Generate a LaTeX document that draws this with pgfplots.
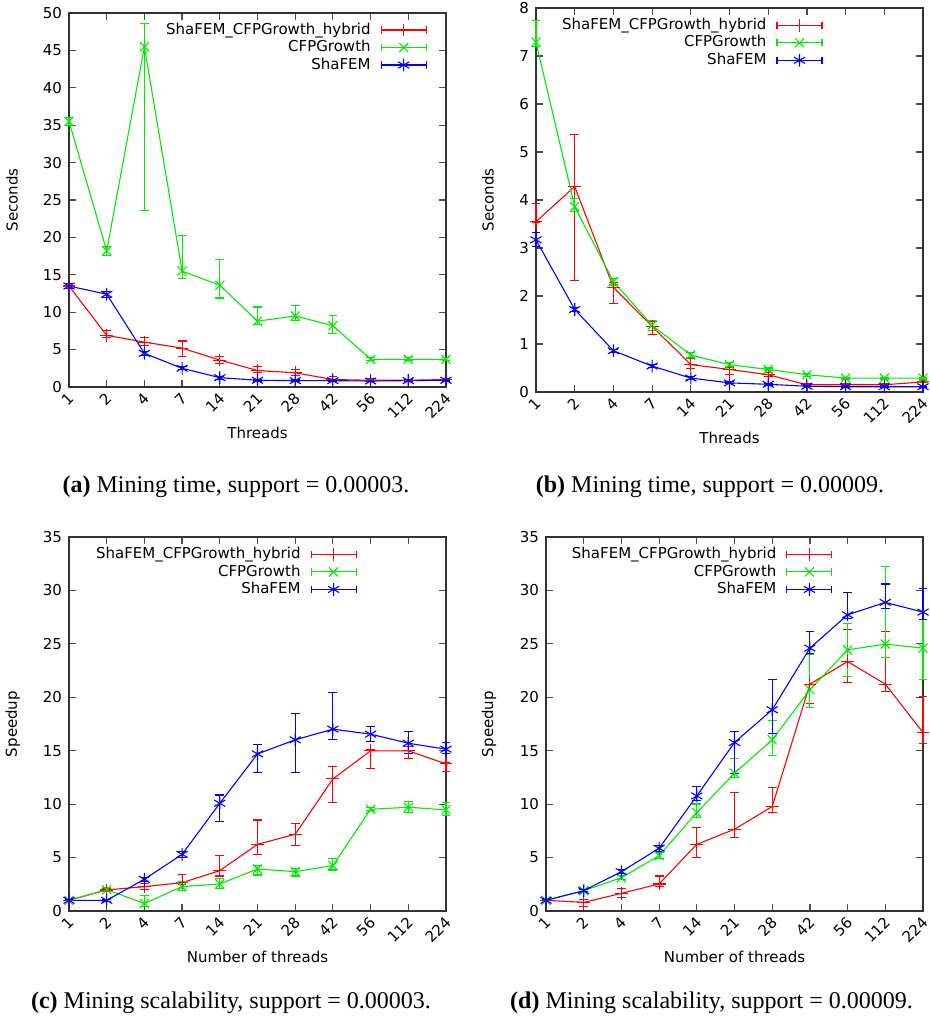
\documentclass[border=0pt]{standalone}
\usepackage{pgfplots}
\pgfplotsset{compat=1.18}
\usepackage{fontspec}
\setmainfont{DejaVu Sans}
\newfontfamily\capfont{Liberation Serif}
\definecolor{gpred}{RGB}{255,0,0}
\definecolor{gpgreen}{RGB}{0,235,0}
\definecolor{gpblue}{RGB}{0,0,255}

\pgfplotsset{
  gp/.style={
    scale only axis, clip=false,
    xmin=0, xmax=10, xtick={0,...,10},
    xticklabels={1,2,4,7,14,21,28,42,56,112,224},
    xticklabel style={xshift=-1pt, rotate=45, anchor=north east, inner sep=1.5pt},
    ymin=0,
    tick align=inside, major tick length=3.5pt,
    axis line style={black!80, line width=0.65pt},
    tick style={black!70, line width=0.6pt},
    font=\fontsize{7.5}{9}\selectfont,
    /pgf/number format/assume math mode=true,
    legend plot pos=right, legend cell align=right,
    legend style={draw=none, fill=none, anchor=north east, inner sep=0pt,
      row sep=0.35pt, column sep=4.5pt, font=\fontsize{7.5}{9}\selectfont,
      nodes={inner sep=0.5pt, text height=5.8pt, text depth=1.6pt}},
    legend image code/.code={
      \draw[#1,mark=none] (0pt,0pt) -- (22.5pt,0pt)
        (0pt,-1.8pt) -- (0pt,1.8pt) (22.5pt,-1.8pt) -- (22.5pt,1.8pt);
      \draw[#1,only marks] plot coordinates {(11.25pt,0pt)};
    },
    every axis plot/.append style={line width=0.55pt, mark size=3.2pt},
    error bars/y dir=both, error bars/y explicit,
  },
  errc/.style={
    error bars/error bar style={draw=#1, line width=0.55pt},
    error bars/error mark options={draw=#1, rotate=90, mark size=2.2pt, line width=0.55pt}},
  hyb/.style={color=gpred, mark=+, errc=gpred},
  cfp/.style={color=gpgreen, mark=x, errc=gpgreen},
  sha/.style={color=gpblue, mark=asterisk, errc=gpblue},
}

\begin{document}
\begin{tikzpicture}
\useasboundingbox (0,0) rectangle (465pt,512.5pt);

% (a) mining time, support 0.00003
\begin{axis}[gp, at={(34.5pt,319pt)}, anchor=south west,
  width=188.5pt, height=187pt, ymax=50, ytick={0,5,...,50},
  xlabel={Threads}, ylabel={Seconds},
  xlabel style={at={(axis description cs:0.5,-0.123)}, anchor=center},
  ylabel style={at={(axis description cs:-0.151,0.5)}, anchor=center},
  legend style={at={(axis description cs:0.95,0.978)}}]
\addplot[hyb] coordinates {
  (0,13.5) += (0,0.3) -= (0,0.3)
  (1,6.9) += (0,0.7) -= (0,0.3)
  (2,6.0) += (0,0.6) -= (0,0.4)
  (3,5.2) += (0,0.95) -= (0,1.1)
  (4,3.6) += (0,0.5) -= (0,0.5)
  (5,2.2) += (0,0.5) -= (0,0.3)
  (6,1.9) += (0,0.4) -= (0,0.35)
  (7,1.0) += (0,0.4) -= (0,0.2)
  (8,0.9) += (0,0.2) -= (0,0.1)
  (9,0.9) += (0,0.1) -= (0,0.1)
  (10,1.0) += (0,0.1) -= (0,0.1)
};
\addplot[cfp] coordinates {
  (0,35.5) += (0,0.5) -= (0,0.5)
  (1,18.2) += (0,0.6) -= (0,0.6)
  (2,45.5) += (0,3.1) -= (0,21.9)
  (3,15.5) += (0,4.7) -= (0,1.0)
  (4,13.6) += (0,3.45) -= (0,1.7)
  (5,8.8) += (0,1.9) -= (0,0.5)
  (6,9.5) += (0,1.35) -= (0,0.65)
  (7,8.2) += (0,1.35) -= (0,1.1)
  (8,3.7) += (0,0.2) -= (0,0.2)
  (9,3.7) += (0,0.2) -= (0,0.2)
  (10,3.7) += (0,0.2) -= (0,0.2)
};
\addplot[sha] coordinates {
  (0,13.5) += (0,0.3) -= (0,0.3)
  (1,12.4) += (0,0.4) -= (0,0.4)
  (2,4.5) += (0,0.3) -= (0,0.3)
  (3,2.5) += (0,0.2) -= (0,0.2)
  (4,1.25) += (0,0.2) -= (0,0.2)
  (5,0.9) += (0,0.1) -= (0,0.1)
  (6,0.85) += (0,0.1) -= (0,0.1)
  (7,0.85) += (0,0.1) -= (0,0.1)
  (8,0.8) += (0,0.1) -= (0,0.1)
  (9,0.85) += (0,0.1) -= (0,0.1)
  (10,0.9) += (0,0.1) -= (0,0.1)
};
\legend{ShaFEM\_CFPGrowth\_hybrid, CFPGrowth, ShaFEM}
\end{axis}

% (b) mining time, support 0.00009
\begin{axis}[gp, at={(268pt,316.5pt)}, anchor=south west,
  width=193.5pt, height=192pt, ymax=8, ytick={0,1,...,8},
  xlabel={Threads}, ylabel={Seconds},
  xlabel style={at={(axis description cs:0.5,-0.12)}, anchor=center},
  ylabel style={at={(axis description cs:-0.124,0.5)}, anchor=center},
  legend style={at={(axis description cs:0.7416,0.978)}}]
\addplot[hyb] coordinates {
  (0,3.55) += (0,0.37) -= (0,0.02)
  (1,4.28) += (0,1.09) -= (0,1.96)
  (2,2.18) += (0,0.1) -= (0,0.34)
  (3,1.37) += (0,0.1) -= (0,0.17)
  (4,0.57) += (0,0.13) -= (0,0.08)
  (5,0.47) += (0,0.05) -= (0,0.1)
  (6,0.36) += (0,0.04) -= (0,0.04)
  (7,0.15) += (0,0.03) -= (0,0.03)
  (8,0.15) += (0,0.02) -= (0,0.02)
  (9,0.15) += (0,0.02) -= (0,0.02)
  (10,0.21) += (0,0.02) -= (0,0.02)
};
\addplot[cfp] coordinates {
  (0,7.29) += (0,0.45) -= (0,0.1)
  (1,3.86) += (0,0.17) -= (0,0.1)
  (2,2.30) += (0,0.07) -= (0,0.07)
  (3,1.39) += (0,0.1) -= (0,0.1)
  (4,0.77) += (0,0.05) -= (0,0.05)
  (5,0.57) += (0,0.04) -= (0,0.04)
  (6,0.47) += (0,0.03) -= (0,0.03)
  (7,0.36) += (0,0.03) -= (0,0.03)
  (8,0.29) += (0,0.02) -= (0,0.02)
  (9,0.29) += (0,0.02) -= (0,0.02)
  (10,0.29) += (0,0.02) -= (0,0.02)
};
\addplot[sha] coordinates {
  (0,3.17) += (0,0.16) -= (0,0.14)
  (1,1.72) += (0,0.04) -= (0,0.04)
  (2,0.86) += (0,0.03) -= (0,0.03)
  (3,0.54) += (0,0.03) -= (0,0.03)
  (4,0.29) += (0,0.03) -= (0,0.03)
  (5,0.19) += (0,0.02) -= (0,0.02)
  (6,0.16) += (0,0.02) -= (0,0.02)
  (7,0.12) += (0,0.01) -= (0,0.01)
  (8,0.11) += (0,0.01) -= (0,0.01)
  (9,0.11) += (0,0.01) -= (0,0.01)
  (10,0.11) += (0,0.01) -= (0,0.01)
};
\legend{ShaFEM\_CFPGrowth\_hybrid, CFPGrowth, ShaFEM}
\end{axis}

% (c) mining scalability, support 0.00003
\begin{axis}[gp, at={(34.5pt,57pt)}, anchor=south west,
  width=188.5pt, height=187pt, ymax=35, ytick={0,5,...,35},
  xlabel={Number of threads}, ylabel={Speedup},
  xlabel style={at={(axis description cs:0.5,-0.123)}, anchor=center},
  ylabel style={at={(axis description cs:-0.149,0.5)}, anchor=center},
  legend style={at={(axis description cs:0.764,0.977)}}]
\addplot[hyb] coordinates {
  (0,1.0) += (0,0.05) -= (0,0.05)
  (1,1.97) += (0,0.15) -= (0,0.15)
  (2,2.28) += (0,0.3) -= (0,0.3)
  (3,2.65) += (0,0.78) -= (0,0.2)
  (4,3.78) += (0,1.4) -= (0,0.5)
  (5,6.24) += (0,2.28) -= (0,0.94)
  (6,7.18) += (0,1.02) -= (0,1.09)
  (7,12.36) += (0,1.13) -= (0,2.18)
  (8,14.99) += (0,0.1) -= (0,1.63)
  (9,14.99) += (0,0.41) -= (0,0.72)
  (10,13.77) += (0,0.1) -= (0,0.72)
};
\addplot[cfp] coordinates {
  (0,1.0) += (0,0.05) -= (0,0.05)
  (1,2.0) += (0,0.2) -= (0,0.2)
  (2,0.7) += (0,0.74) -= (0,0.3)
  (3,2.28) += (0,0.45) -= (0,0.37)
  (4,2.53) += (0,0.53) -= (0,0.4)
  (5,3.93) += (0,0.37) -= (0,0.56)
  (6,3.68) += (0,0.32) -= (0,0.4)
  (7,4.25) += (0,0.68) -= (0,0.41)
  (8,9.52) += (0,0.15) -= (0,0.15)
  (9,9.71) += (0,0.53) -= (0,0.47)
  (10,9.46) += (0,0.69) -= (0,0.56)
};
\addplot[sha] coordinates {
  (0,1.0) += (0,0.05) -= (0,0.05)
  (1,1.0) += (0,0.1) -= (0,0.1)
  (2,2.97) += (0,0.2) -= (0,0.2)
  (3,5.3) += (0,0.3) -= (0,0.3)
  (4,10.08) += (0,0.78) -= (0,1.68)
  (5,14.7) += (0,0.9) -= (0,1.7)
  (6,16.02) += (0,2.43) -= (0,3.02)
  (7,17.02) += (0,3.43) -= (0,1.0)
  (8,16.55) += (0,0.72) -= (0,0.69)
  (9,15.7) += (0,1.1) -= (0,0.93)
  (10,15.14) += (0,0.63) -= (0,0.4)
};
\legend{ShaFEM\_CFPGrowth\_hybrid, CFPGrowth, ShaFEM}
\end{axis}

% (d) mining scalability, support 0.00009
\begin{axis}[gp, at={(273pt,57pt)}, anchor=south west,
  width=188.5pt, height=187pt, ymax=35, ytick={0,5,...,35},
  xlabel={Number of threads}, ylabel={Speedup},
  xlabel style={at={(axis description cs:0.5,-0.123)}, anchor=center},
  ylabel style={at={(axis description cs:-0.151,0.5)}, anchor=center},
  legend style={at={(axis description cs:0.761,0.977)}}]
\addplot[hyb] coordinates {
  (0,1.0) += (0,0.05) -= (0,0.05)
  (1,0.81) += (0,0.3) -= (0,0.4)
  (2,1.65) += (0,0.47) -= (0,0.4)
  (3,2.53) += (0,0.75) -= (0,0.25)
  (4,6.24) += (0,1.6) -= (0,1.24)
  (5,7.65) += (0,3.43) -= (0,0.75)
  (6,9.77) += (0,1.81) -= (0,0.56)
  (7,21.23) += (0,2.8) -= (0,1.85)
  (8,23.35) += (0,3.03) -= (0,1.93)
  (9,21.23) += (0,4.93) -= (0,0.69)
  (10,16.7) += (0,3.37) -= (0,1.06)
};
\addplot[cfp] coordinates {
  (0,1.0) += (0,0.05) -= (0,0.05)
  (1,1.9) += (0,0.1) -= (0,0.1)
  (2,3.12) += (0,0.2) -= (0,0.2)
  (3,5.18) += (0,0.3) -= (0,0.3)
  (4,9.21) += (0,0.8) -= (0,0.5)
  (5,12.89) += (0,1.35) -= (0,0.4)
  (6,16.02) += (0,1.78) -= (0,1.47)
  (7,20.7) += (0,3.3) -= (0,1.66)
  (8,24.44) += (0,2.44) -= (0,2.49)
  (9,24.98) += (0,7.27) -= (0,1.22)
  (10,24.6) += (0,2.7) -= (0,2.9)
};
\addplot[sha] coordinates {
  (0,1.0) += (0,0.05) -= (0,0.05)
  (1,1.9) += (0,0.1) -= (0,0.1)
  (2,3.68) += (0,0.2) -= (0,0.2)
  (3,5.87) += (0,0.3) -= (0,0.3)
  (4,10.77) += (0,0.88) -= (0,0.4)
  (5,15.77) += (0,1.03) -= (0,2.88)
  (6,18.83) += (0,2.81) -= (0,2.19)
  (7,24.6) += (0,1.56) -= (0,0.47)
  (8,27.72) += (0,2.08) -= (0,0.32)
  (9,28.88) += (0,1.72) -= (0,0.53)
  (10,27.97) += (0,2.23) -= (0,0.72)
};
\legend{ShaFEM\_CFPGrowth\_hybrid, CFPGrowth, ShaFEM}
\end{axis}

% sub-captions
\node[anchor=base, inner sep=0pt, font=\capfont\fontsize{12}{14}\selectfont]
  at (118pt,266pt) {\textbf{(a)} Mining time, support = 0.00003.};
\node[anchor=base, inner sep=0pt, font=\capfont\fontsize{12}{14}\selectfont]
  at (355pt,266pt) {\textbf{(b)} Mining time, support = 0.00009.};
\node[anchor=base, inner sep=0pt, font=\capfont\fontsize{12}{14}\selectfont]
  at (115.5pt,8.5pt) {\textbf{(c)} Mining scalability, support = 0.00003.};
\node[anchor=base, inner sep=0pt, font=\capfont\fontsize{12}{14}\selectfont]
  at (355.75pt,8.5pt) {\textbf{(d)} Mining scalability, support = 0.00009.};
\end{tikzpicture}
\end{document}
